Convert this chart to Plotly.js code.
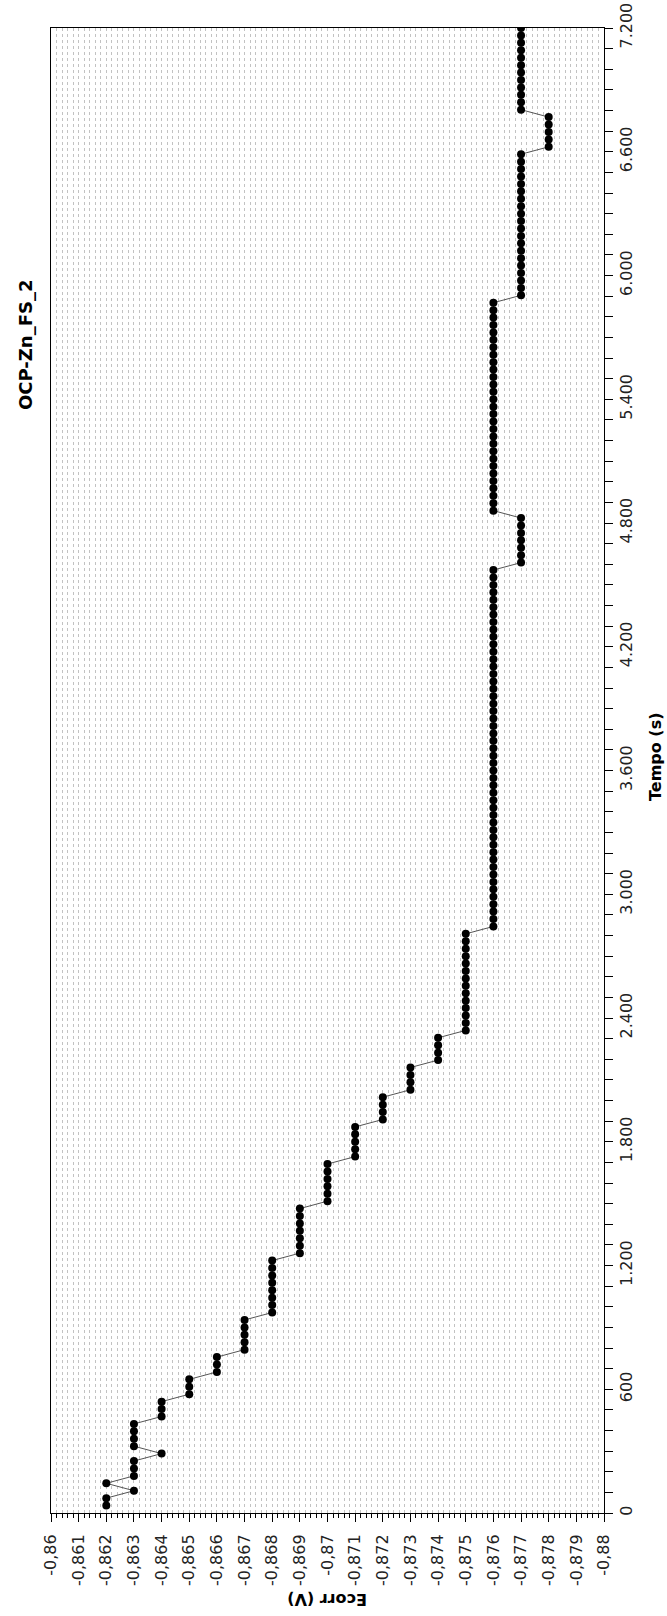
<!DOCTYPE html>
<html>
<head>
<meta charset="utf-8">
<script src="https://cdn.plot.ly/plotly-3.0.1.min.js"></script>
<style>
  html, body { margin: 0; padding: 0; background: #ffffff; }
  #chart { width: 667px; height: 1616px; }
</style>
</head>
<body>
<div id="chart"></div>
<script>
// Time (s) of each reading
const tempo = [
  36, 72, 108, 144, 180, 216, 252, 288, 324, 360,
  396, 432, 468, 504, 540, 576, 612, 648, 684, 720,
  756, 792, 828, 864, 900, 936, 972, 1008, 1044, 1080,
  1116, 1152, 1188, 1224, 1260, 1296, 1332, 1368, 1404, 1440,
  1476, 1512, 1548, 1584, 1620, 1656, 1692, 1728, 1764, 1800,
  1836, 1872, 1908, 1944, 1980, 2016, 2052, 2088, 2124, 2160,
  2196, 2232, 2268, 2304, 2340, 2376, 2412, 2448, 2484, 2520,
  2556, 2592, 2628, 2664, 2700, 2736, 2772, 2808, 2844, 2880,
  2916, 2952, 2988, 3024, 3060, 3096, 3132, 3168, 3204, 3240,
  3276, 3312, 3348, 3384, 3420, 3456, 3492, 3528, 3564, 3600,
  3636, 3672, 3708, 3744, 3780, 3816, 3852, 3888, 3924, 3960,
  3996, 4032, 4068, 4104, 4140, 4176, 4212, 4248, 4284, 4320,
  4356, 4392, 4428, 4464, 4500, 4536, 4572, 4608, 4644, 4680,
  4716, 4752, 4788, 4824, 4860, 4896, 4932, 4968, 5004, 5040,
  5076, 5112, 5148, 5184, 5220, 5256, 5292, 5328, 5364, 5400,
  5436, 5472, 5508, 5544, 5580, 5616, 5652, 5688, 5724, 5760,
  5796, 5832, 5868, 5904, 5940, 5976, 6012, 6048, 6084, 6120,
  6156, 6192, 6228, 6264, 6300, 6336, 6372, 6408, 6444, 6480,
  6516, 6552, 6588, 6624, 6660, 6696, 6732, 6768, 6804, 6840,
  6876, 6912, 6948, 6984, 7020, 7056, 7092, 7128, 7164, 7200
];

// Ecorr (V) of each reading
const ecorr = [
  -0.862, -0.862, -0.863, -0.862, -0.863, -0.863, -0.863, -0.864, -0.863, -0.863,
  -0.863, -0.863, -0.864, -0.864, -0.864, -0.865, -0.865, -0.865, -0.866, -0.866,
  -0.866, -0.867, -0.867, -0.867, -0.867, -0.867, -0.868, -0.868, -0.868, -0.868,
  -0.868, -0.868, -0.868, -0.868, -0.869, -0.869, -0.869, -0.869, -0.869, -0.869,
  -0.869, -0.870, -0.870, -0.870, -0.870, -0.870, -0.870, -0.871, -0.871, -0.871,
  -0.871, -0.871, -0.872, -0.872, -0.872, -0.872, -0.873, -0.873, -0.873, -0.873,
  -0.874, -0.874, -0.874, -0.874, -0.875, -0.875, -0.875, -0.875, -0.875, -0.875,
  -0.875, -0.875, -0.875, -0.875, -0.875, -0.875, -0.875, -0.875, -0.876, -0.876,
  -0.876, -0.876, -0.876, -0.876, -0.876, -0.876, -0.876, -0.876, -0.876, -0.876,
  -0.876, -0.876, -0.876, -0.876, -0.876, -0.876, -0.876, -0.876, -0.876, -0.876,
  -0.876, -0.876, -0.876, -0.876, -0.876, -0.876, -0.876, -0.876, -0.876, -0.876,
  -0.876, -0.876, -0.876, -0.876, -0.876, -0.876, -0.876, -0.876, -0.876, -0.876,
  -0.876, -0.876, -0.876, -0.876, -0.876, -0.876, -0.876, -0.877, -0.877, -0.877,
  -0.877, -0.877, -0.877, -0.877, -0.876, -0.876, -0.876, -0.876, -0.876, -0.876,
  -0.876, -0.876, -0.876, -0.876, -0.876, -0.876, -0.876, -0.876, -0.876, -0.876,
  -0.876, -0.876, -0.876, -0.876, -0.876, -0.876, -0.876, -0.876, -0.876, -0.876,
  -0.876, -0.876, -0.876, -0.877, -0.877, -0.877, -0.877, -0.877, -0.877, -0.877,
  -0.877, -0.877, -0.877, -0.877, -0.877, -0.877, -0.877, -0.877, -0.877, -0.877,
  -0.877, -0.877, -0.877, -0.878, -0.878, -0.878, -0.878, -0.878, -0.877, -0.877,
  -0.877, -0.877, -0.877, -0.877, -0.877, -0.877, -0.877, -0.877, -0.877, -0.877
];

// Tick values and labels
const ecorrTicks = [-0.86, -0.861, -0.862, -0.863, -0.864, -0.865, -0.866, -0.867, -0.868, -0.869, -0.87,
                    -0.871, -0.872, -0.873, -0.874, -0.875, -0.876, -0.877, -0.878, -0.879, -0.88];
const ecorrLabels = ["-0,86", "-0,861", "-0,862", "-0,863", "-0,864", "-0,865", "-0,866", "-0,867", "-0,868", "-0,869", "-0,87",
                     "-0,871", "-0,872", "-0,873", "-0,874", "-0,875", "-0,876", "-0,877", "-0,878", "-0,879", "-0,88"];
const tempoTicks = [0, 600, 1200, 1800, 2400, 3000, 3600, 4200, 4800, 5400, 6000, 6600, 7200];
const tempoLabels = ["0", "600", "1.200", "1.800", "2.400", "3.000", "3.600", "4.200", "4.800", "5.400", "6.000", "6.600", "7.200"];

const titleText = "OCP-Zn_FS_2";
const xTitleText = "Tempo (s)";
const yTitleText = "Ecorr (V)";

const FONT = "DejaVu Sans, Verdana, sans-serif";
const GRID = "#c2c2c2";

const trace = {
  type: "scatter",
  mode: "lines+markers",
  x: ecorr,
  y: tempo,
  line: { color: "#555555", width: 1 },
  marker: { color: "#000000", size: 8 },
  showlegend: false,
  hoverinfo: "x+y"
};

const layout = {
  width: 667,
  height: 1616,
  margin: { l: 51, r: 63, t: 28, b: 103, pad: 0 },
  paper_bgcolor: "#ffffff",
  plot_bgcolor: "#ffffff",
  font: { family: FONT, color: "#222222", size: 16 },
  showlegend: false,
  xaxis: {
    range: [-0.86, -0.88],
    tickmode: "array",
    tickvals: ecorrTicks,
    ticktext: ecorrLabels,
    tickangle: -90,
    ticks: "outside",
    ticklen: 8,
    tickwidth: 1,
    tickcolor: "#000000",
    ticklabelstandoff: 6,
    tickfont: { family: FONT, size: 16, color: "#222222" },
    showgrid: true,
    gridcolor: GRID,
    griddash: "dot",
    gridwidth: 1,
    zeroline: false,
    showline: true,
    linecolor: "#000000",
    linewidth: 1,
    mirror: true,
    minor: {
      tickmode: "linear",
      tick0: -0.86,
      dtick: 0.0002,
      ticks: "outside",
      ticklen: 4,
      tickcolor: "#000000",
      showgrid: true,
      gridcolor: GRID,
      griddash: "dot",
      gridwidth: 1
    }
  },
  yaxis: {
    range: [0, 7200],
    side: "right",
    tickmode: "array",
    tickvals: tempoTicks,
    ticktext: tempoLabels,
    tickangle: -90,
    ticks: "outside",
    ticklen: 8,
    tickwidth: 1,
    tickcolor: "#000000",
    tickfont: { family: FONT, size: 16, color: "#222222" },
    showgrid: false,
    zeroline: false,
    showline: true,
    linecolor: "#000000",
    linewidth: 1,
    mirror: true,
    minor: {
      tickmode: "linear",
      tick0: 0,
      dtick: 100,
      ticks: "outside",
      ticklen: 8,
      tickcolor: "#000000",
      showgrid: false
    }
  },
  annotations: [
    {
      text: titleText,
      xref: "paper", yref: "paper",
      x: -0.047, y: 0.7865,
      xanchor: "center", yanchor: "middle",
      textangle: -90,
      showarrow: false,
      font: { family: FONT, size: 18, color: "#000000", weight: "bold" }
    },
    {
      text: xTitleText,
      xref: "paper", yref: "paper",
      x: 1.092, y: 0.509,
      xanchor: "center", yanchor: "middle",
      textangle: -90,
      showarrow: false,
      font: { family: FONT, size: 16, color: "#000000", weight: "bold" }
    },
    {
      text: yTitleText,
      xref: "paper", yref: "paper",
      x: 0.5, y: -0.0586,
      xanchor: "center", yanchor: "middle",
      textangle: 180,
      showarrow: false,
      font: { family: FONT, size: 16, color: "#000000", weight: "bold" }
    }
  ]
};

Plotly.newPlot("chart", [trace], layout, { displayModeBar: false, staticPlot: true });
</script>
</body>
</html>
